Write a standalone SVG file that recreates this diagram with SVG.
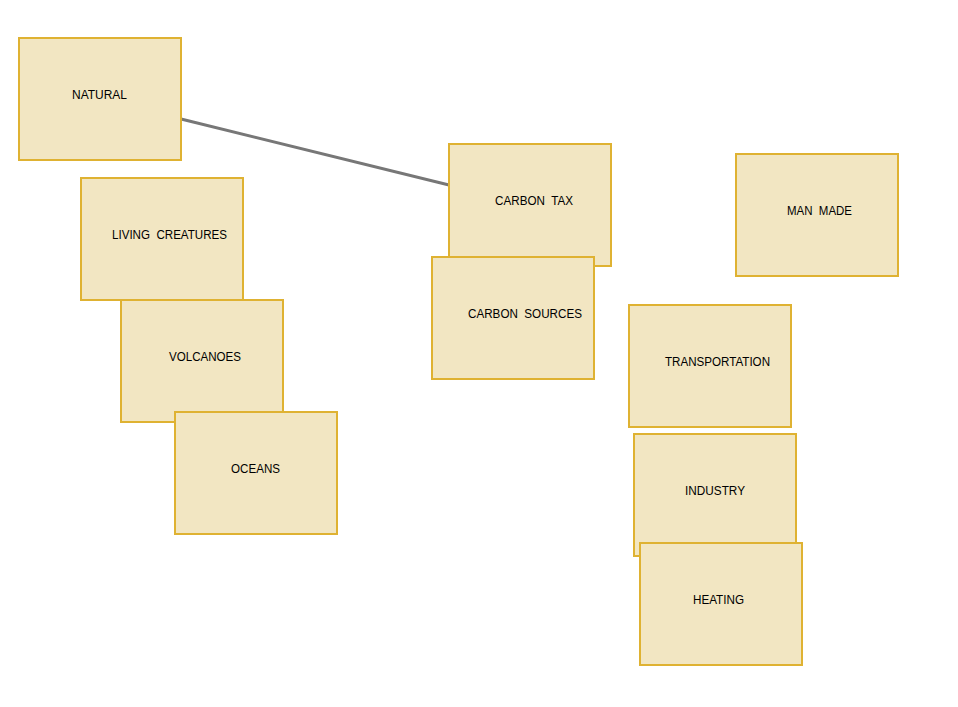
<svg xmlns="http://www.w3.org/2000/svg" width="958" height="707" viewBox="0 0 958 707">
<style>
.box{fill:#F2E6C2;stroke:#DFB232;stroke-width:2}
.lbl{font-family:"Liberation Sans",Arial,sans-serif;font-size:12.5px;fill:#000}
.conn{stroke:#777;stroke-width:3;fill:none}
</style>
<rect width="958" height="707" fill="#fff"/>
<g id="connectors">
<line class="conn" x1="181" y1="119" x2="449" y2="185"/>
</g>
<g id="natural"><rect class="box" x="19" y="38" width="162" height="122"/><text class="lbl" x="72" y="99" textLength="55" lengthAdjust="spacingAndGlyphs">NATURAL</text></g>
<g id="living-creatures"><rect class="box" x="81" y="178" width="162" height="122"/><text class="lbl" x="112" y="239" textLength="115" lengthAdjust="spacingAndGlyphs" xml:space="preserve">LIVING  CREATURES</text></g>
<g id="volcanoes"><rect class="box" x="121" y="300" width="162" height="122"/><text class="lbl" x="169" y="361" textLength="72" lengthAdjust="spacingAndGlyphs">VOLCANOES</text></g>
<g id="oceans"><rect class="box" x="175" y="412" width="162" height="122"/><text class="lbl" x="231" y="473" textLength="49" lengthAdjust="spacingAndGlyphs">OCEANS</text></g>
<g id="carbon-tax"><rect class="box" x="449" y="144" width="162" height="122"/><text class="lbl" x="495" y="205" textLength="78" lengthAdjust="spacingAndGlyphs" xml:space="preserve">CARBON  TAX</text></g>
<g id="carbon-sources"><rect class="box" x="432" y="257" width="162" height="122"/><text class="lbl" x="468" y="318" textLength="114" lengthAdjust="spacingAndGlyphs" xml:space="preserve">CARBON  SOURCES</text></g>
<g id="man-made"><rect class="box" x="736" y="154" width="162" height="122"/><text class="lbl" x="787" y="215" textLength="65" lengthAdjust="spacingAndGlyphs" xml:space="preserve">MAN  MADE</text></g>
<g id="transportation"><rect class="box" x="629" y="305" width="162" height="122"/><text class="lbl" x="665" y="366" textLength="105" lengthAdjust="spacingAndGlyphs">TRANSPORTATION</text></g>
<g id="industry"><rect class="box" x="634" y="434" width="162" height="122"/><text class="lbl" x="685" y="495" textLength="60" lengthAdjust="spacingAndGlyphs">INDUSTRY</text></g>
<g id="heating"><rect class="box" x="640" y="543" width="162" height="122"/><text class="lbl" x="693" y="604" textLength="51" lengthAdjust="spacingAndGlyphs">HEATING</text></g>
</svg>
